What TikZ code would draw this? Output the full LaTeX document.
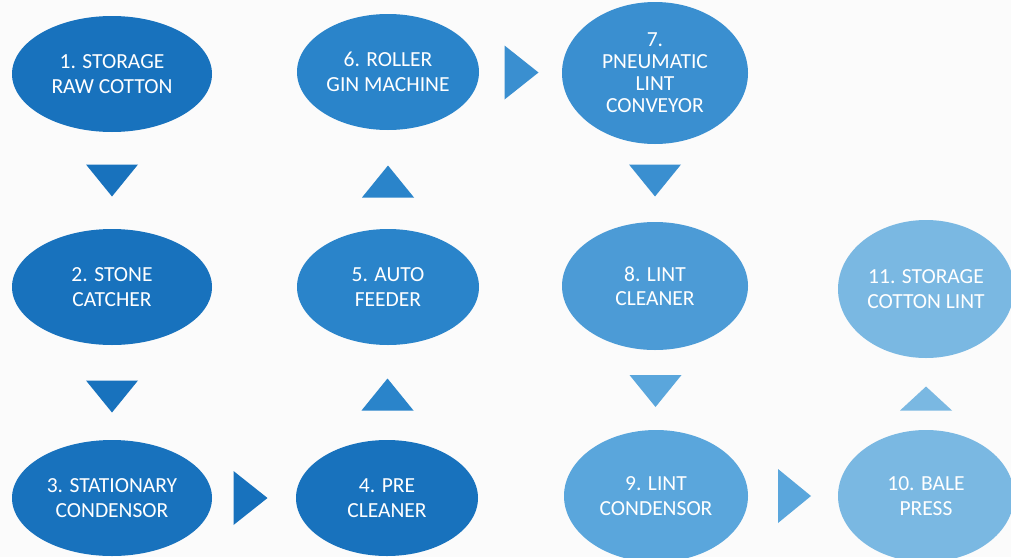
\documentclass[tikz,border=0pt]{standalone}
\usepackage{fontspec}
\setmainfont{Carlito}
\usetikzlibrary{shapes.geometric,calc}
\definecolor{stepA}{HTML}{1872BD}
\definecolor{stepB}{HTML}{2A84CA}
\definecolor{stepC}{HTML}{3A8FD0}
\definecolor{stepD}{HTML}{4C9BD6}
\definecolor{stepE}{HTML}{5AA6DC}
\definecolor{stepF}{HTML}{7AB8E2}
\begin{document}
\begin{tikzpicture}[x=1pt,y=-1pt,
  stage/.style={ellipse,inner sep=0pt,text=white,align=center,
    font=\fontsize{21.5}{24.5}\selectfont},
  wide/.style={stage,minimum width=200pt,minimum height=116pt},
  mid/.style={stage,minimum width=182pt,minimum height=116pt}]
\fill[white!97!gray] (0,0) rectangle (1011,557);
\useasboundingbox (0,0) rectangle (1011,557);
% first column
\node[wide,fill=stepA] (raw) at (112,74) {1. STORAGE\\RAW COTTON};
\node[wide,fill=stepA] (stone) at (112,287) {2. STONE\\CATCHER};
\node[wide,fill=stepA] (cond) at (112,498) {3. STATIONARY\\CONDENSOR};
% second column
\node[mid,fill=stepA] (pre) at (387,498) {4. PRE\\CLEANER};
\node[mid,fill=stepB] (feed) at (388,287) {5. AUTO\\FEEDER};
\node[mid,fill=stepB] (gin) at (388,72) {6. ROLLER\\GIN MACHINE};
% third column
\node[stage,fill=stepC,minimum width=186pt,minimum height=142pt,
  font=\fontsize{21.5}{22}\selectfont] (pneu) at (655,73) {7.\\PNEUMATIC\\LINT\\CONVEYOR};
\node[stage,fill=stepD,minimum width=186pt,minimum height=128pt] (clean) at (655,286) {8. LINT\\CLEANER};
\node[stage,fill=stepE,minimum width=184pt,minimum height=132pt] (lcond) at (656,496) {9. LINT\\CONDENSOR};
% fourth column
\node[stage,fill=stepF,minimum width=176pt,minimum height=132pt] (bale) at (926,496) {10. BALE\\PRESS};
\node[stage,fill=stepF,minimum width=176pt,minimum height=138pt] (store) at (926,289) {11. STORAGE\\COTTON LINT};
% arrow heads between the stages
\fill[stepA] ($(raw)!.5!(stone)$) ++(-26,-16) -- ++(52,0) -- ++(-26,32) -- cycle;
\fill[stepA] ($(stone)!.5!(cond)$) ++(-26,-12) -- ++(52,0) -- ++(-26,32) -- cycle;
\fill[stepA] ($(cond)!.5!(pre)$) ++(-16,-27) -- ++(0,54) -- ++(34,-27) -- cycle;
\fill[stepB] ($(pre)!.5!(feed)$) ++(-26,18) -- ++(52,0) -- ++(-26,-32) -- cycle;
\fill[stepB] ($(feed)!.5!(gin)$) ++(-26,18) -- ++(52,0) -- ++(-26,-32) -- cycle;
\fill[stepC] ($(gin)!.5!(pneu)$) ++(-17,-27) -- ++(0,54) -- ++(34,-27) -- cycle;
\fill[stepC] ($(pneu)!.5!(clean)$) ++(-26,-15) -- ++(52,0) -- ++(-26,32) -- cycle;
\fill[stepE] ($(clean)!.5!(lcond)$) ++(-26,-16) -- ++(52,0) -- ++(-26,32) -- cycle;
\fill[stepE] ($(lcond)!.5!(bale)$) ++(-13,-27) -- ++(0,54) -- ++(33,-27) -- cycle;
\fill[stepF] ($(bale)!.5!(store)$) ++(-26,18) -- ++(52,0) -- ++(-26,-24) -- cycle;
\end{tikzpicture}
\end{document}
